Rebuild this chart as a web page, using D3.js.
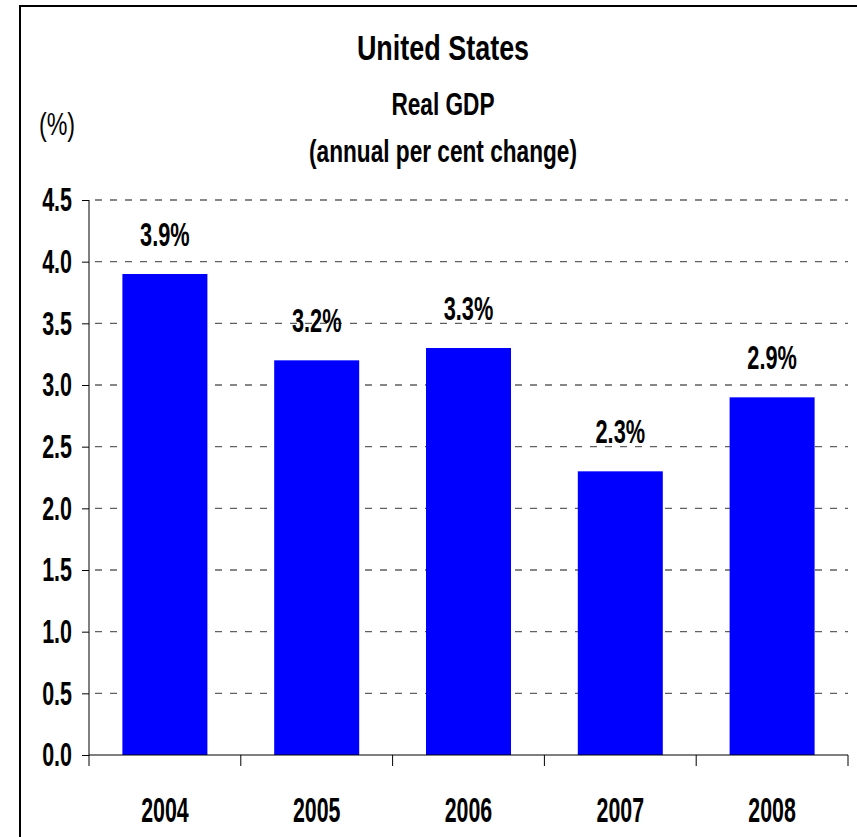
<!DOCTYPE html>
<html lang="en">
<head>
    <meta charset="UTF-8">
    <title>United States Real GDP</title>
    <script src="https://d3js.org/d3.v7.min.js"></script>
    <style>
        body { margin: 0; background: #fff; }
        text { font-family: "Liberation Sans", Arial, sans-serif; font-weight: bold; fill: #000; }
    </style>
</head>
<body>
    <script>
        var w = 857;
        var h = 837;

        // data
        var years = ["2004", "2005", "2006", "2007", "2008"];
        var growth = [3.9, 3.2, 3.3, 2.3, 2.9];
        var yTicks = [0, 0.5, 1, 1.5, 2, 2.5, 3, 3.5, 4, 4.5];

        // plot box (note: "top" is taken by window.top)
        var plotLeft = 89, plotRight = 848, plotTop = 200, plotBottom = 755;

        var svg = d3.select("body")
                .append("svg")
                .attr("width", w)
                .attr("height", h);

        // squeeze text horizontally (the original font is a condensed one)
        function squeeze(sel, k) {
            sel.each(function() {
                var len = this.getComputedTextLength();
                d3.select(this).attr("textLength", len * k).attr("lengthAdjust", "spacingAndGlyphs");
            });
        }

        // outer frame (only top and left are visible)
        svg.append("path")
            .attr("d", "M20," + h + "V6H" + w)
            .attr("fill", "none")
            .attr("stroke", "#000")
            .attr("stroke-width", 2);

        // scales
        var xSlot = d3.scaleBand()
                .domain(years)
                .range([plotLeft, plotRight])
                .padding(0);

        var xBar = d3.scaleBand()
                .domain(years)
                .range([plotLeft, plotRight])
                .paddingInner(0.44)
                .paddingOuter(0.22);

        var yScale = d3.scaleLinear()
                .domain([0, 4.5])
                .range([plotBottom, plotTop]);

        // gridlines
        svg.selectAll("line.grid")
            .data(yTicks.filter(function(d) { return d > 0; }))
            .enter()
            .append("line")
            .attr("class", "grid")
            .attr("x1", plotLeft + 6)
            .attr("x2", plotRight)
            .attr("y1", function(d) { return yScale(d); })
            .attr("y2", function(d) { return yScale(d); })
            .attr("stroke", "#606060")
            .attr("stroke-width", 1.3)
            .attr("stroke-dasharray", "7,8");

        // bars
        svg.selectAll("rect")
            .data(growth)
            .enter()
            .append("rect")
            .attr("x", function(d, i) { return xBar(years[i]); })
            .attr("y", function(d) { return yScale(d); })
            .attr("width", xBar.bandwidth())
            .attr("height", function(d) { return plotBottom - yScale(d); })
            .attr("fill", "#0000ff");

        // value labels
        var vals = svg.selectAll("text.val")
            .data(growth)
            .enter()
            .append("text")
            .attr("class", "val")
            .text(function(d) { return d.toFixed(1) + "%"; })
            .attr("x", function(d, i) { return xBar(years[i]) + xBar.bandwidth() / 2; })
            .attr("y", function(d) { return yScale(d) - 28; })
            .attr("text-anchor", "middle")
            .attr("font-size", "34px");
        squeeze(vals, 0.64);

        // y axis
        var yAxis = d3.axisLeft(yScale)
                .tickValues(yTicks)
                .tickSize(7)
                .tickPadding(10)
                .tickFormat(d3.format(".1f"));

        var gy = svg.append("g")
            .attr("transform", "translate(" + plotLeft + ",0)")
            .call(yAxis);
        gy.select(".domain").remove();
        gy.selectAll(".tick line").attr("stroke", "#000");
        gy.append("line")
            .attr("y1", plotTop)
            .attr("y2", plotBottom + 11)
            .attr("stroke", "#000");
        var yl = gy.selectAll(".tick text")
            .attr("font-size", "33px")
            .attr("font-family", null)
            .attr("fill", "#000")
            .attr("dy", "0.33em");
        squeeze(yl, 0.65);

        // x axis
        var xAxis = d3.axisBottom(xSlot)
                .tickSize(0)
                .tickPadding(0);

        var gx = svg.append("g")
            .attr("transform", "translate(0," + plotBottom + ")")
            .call(xAxis);
        gx.select(".domain").attr("stroke", "#000").attr("d", "M" + plotLeft + ",0H" + plotRight);
        var xl = gx.selectAll(".tick text")
            .attr("font-size", "35px")
            .attr("font-family", null)
            .attr("fill", "#000")
            .attr("y", 67)
            .attr("dy", 0);
        squeeze(xl, 0.61);

        // category boundary ticks
        var bounds = years.map(function(d) { return xSlot(d); }).concat([plotRight]);
        gx.selectAll("line.bound")
            .data(bounds.slice(1))
            .enter()
            .append("line")
            .attr("class", "bound")
            .attr("x1", function(d) { return d; })
            .attr("x2", function(d) { return d; })
            .attr("y1", 0)
            .attr("y2", 11)
            .attr("stroke", "#000");

        // titles
        var t1 = svg.append("text")
            .text("United States")
            .attr("x", 443).attr("y", 60)
            .attr("text-anchor", "middle")
            .attr("font-size", "35px");
        squeeze(t1, 0.77);

        var t2 = svg.append("text")
            .text("Real GDP")
            .attr("x", 443).attr("y", 115)
            .attr("text-anchor", "middle")
            .attr("font-size", "31px");
        squeeze(t2, 0.73);

        var t3 = svg.append("text")
            .text("(annual per cent change)")
            .attr("x", 443).attr("y", 162)
            .attr("text-anchor", "middle")
            .attr("font-size", "31px");
        squeeze(t3, 0.73);

        // unit label
        var unit = svg.append("text")
            .text("(%)")
            .attr("x", 57).attr("y", 135)
            .attr("text-anchor", "middle")
            .attr("font-size", "31px")
            .style("font-weight", "normal");
        squeeze(unit, 0.75);
    </script>
</body>
</html>
